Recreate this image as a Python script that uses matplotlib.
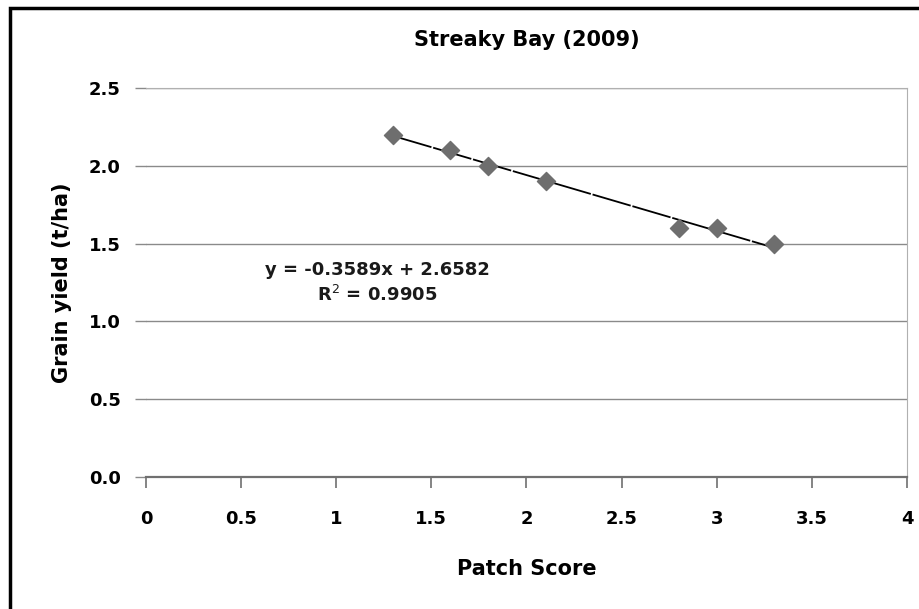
import numpy as np
import matplotlib
matplotlib.use('Agg')
import matplotlib.pyplot as plt
from matplotlib.patches import Rectangle

plt.rcParams['font.family'] = ['DejaVu Sans']

# patch score vs grain yield, Streaky Bay 2009
patch_score = [1.3, 1.6, 1.8, 2.1, 2.8, 3.0, 3.3]
grain_yield = [2.2, 2.1, 2.0, 1.9, 1.6, 1.6, 1.5]

# linear trendline coefficients
slope = -0.3589
intercept = 2.6582
r_squared = 0.9905

x_ticks = [0, 0.5, 1, 1.5, 2, 2.5, 3, 3.5, 4]
x_tick_labels = ['0', '0.5', '1', '1.5', '2', '2.5', '3', '3.5', '4']
y_ticks = [0.0, 0.5, 1.0, 1.5, 2.0, 2.5]

fig = plt.figure(figsize=(9.2, 6.09), dpi=100)
ax = fig.add_axes([146 / 920, 1 - 477 / 609, (907 - 146) / 920, (477 - 88) / 609])

ax.set_xlim(0, 4)
ax.set_ylim(0, 2.5)

# gridlines
ax.set_axisbelow(True)
ax.yaxis.grid(True, color='#8a8a8a', linewidth=1.0)

# trendline over the data range
xs = np.array([min(patch_score), max(patch_score)])
ax.plot(xs, slope * xs + intercept, color='black', linewidth=1.3,
        dashes=(22, 1), zorder=3)

ax.scatter(patch_score, grain_yield, marker='D', s=85, color='#6e6e6e',
           edgecolors='#6e6e6e', zorder=4)

ax.text(1.214, 1.245, f'y = {slope}x + {intercept}\nR$^2$ = {r_squared}',
        ha='center', va='center', fontsize=13, fontweight='bold',
        linespacing=1.35, color='#1a1a1a')

# axes styling
ax.spines['left'].set_visible(False)
ax.spines['top'].set_color('#b0b0b0')
ax.spines['right'].set_color('#b0b0b0')
ax.spines['bottom'].set_color('#707070')
ax.spines['bottom'].set_linewidth(1.6)

ax.set_xticks(x_ticks)
ax.set_xticklabels(x_tick_labels)
ax.set_yticks(y_ticks)
ax.set_yticklabels([f'{v:.1f}' for v in y_ticks])
ax.tick_params(axis='x', direction='out', length=8, width=1.2, color='#707070',
               pad=16, labelsize=13)
ax.tick_params(axis='y', direction='out', length=8, width=1.0, color='#8a8a8a',
               pad=10, labelsize=13)
for lbl in ax.get_xticklabels() + ax.get_yticklabels():
    lbl.set_fontweight('bold')

ax.set_title('Streaky Bay (2009)', fontsize=15, fontweight='bold', pad=30)
ax.set_xlabel('Patch Score', fontsize=15, fontweight='bold', labelpad=22)
ax.set_ylabel('Grain yield (t/ha)', fontsize=15, fontweight='bold', labelpad=12)

# outer frame
fig.add_artist(Rectangle((10 / 920, -0.1), 1.2, 1 - 8 / 609 + 0.1,
                         transform=fig.transFigure, fill=False,
                         edgecolor='black', linewidth=2.5))

fig.savefig('out.png', dpi=100)
